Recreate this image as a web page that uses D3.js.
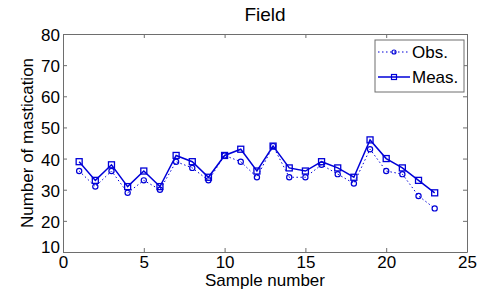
<!DOCTYPE html>
<html>
<head>
<meta charset="utf-8">
<script src="https://cdn.jsdelivr.net/npm/d3@7"></script>
<style>
body { margin: 0; background: #fff; }
text { font-family: "Liberation Sans", Arial, sans-serif; fill: #000; }
</style>
</head>
<body>
<svg id="chart" width="477" height="293"></svg>
<script>
// sample numbers 1..23
var samples = [1, 2, 3, 4, 5, 6, 7, 8, 9, 10, 11, 12, 13, 14, 15, 16, 17, 18, 19, 20, 21, 22, 23];
var obs = [36, 31, 36, 29, 33, 30, 39, 37, 33, 41, 39, 34, 44, 34, 34, 38, 35, 32, 43, 36, 35, 28, 24];
var meas = [39, 33, 38, 31, 36, 31, 41, 39, 34, 41, 43, 36, 44, 37, 36, 39, 37, 34, 46, 40, 37, 33, 29];
var xTicks = [0, 5, 10, 15, 20, 25];
var yTicks = [10, 20, 30, 40, 50, 60, 70, 80];

var blue = "#0000d8";
var axisCol = "#6e6e6e";

var plotL = 63, plotR = 467, plotT = 34, plotB = 252;

var svg = d3.select("#chart");

var x = d3.scaleLinear().domain([0, 25]).range([plotL, plotR]);
var y = d3.scaleLinear().domain([10, 80]).range([plotB, plotT]);

// axes (box with inward ticks on all sides)
function styleAxis(g) {
    g.select(".domain").attr("stroke", axisCol);
    g.selectAll(".tick line").attr("stroke", axisCol);
    g.selectAll(".tick text").style("font-size", "17px").attr("fill", "#000");
}

svg.append("g")
    .attr("transform", "translate(0," + plotB + ")")
    .call(d3.axisBottom(x).tickValues(xTicks).tickSizeInner(-4).tickSizeOuter(0).tickPadding(4))
    .call(styleAxis);

svg.append("g")
    .attr("transform", "translate(0," + plotT + ")")
    .call(d3.axisTop(x).tickValues(xTicks).tickSizeInner(-4).tickSizeOuter(0).tickFormat(""))
    .call(styleAxis);

var yAxisG = svg.append("g")
    .attr("transform", "translate(" + plotL + ",0)")
    .call(d3.axisLeft(y).tickValues(yTicks).tickSizeInner(-4).tickSizeOuter(0).tickPadding(3))
    .call(styleAxis);

// matlab lifts the bottom y label above the corner
yAxisG.selectAll(".tick text")
    .attr("dy", function (d) { return d == 10 ? "0.02em" : "0.38em"; });

svg.append("g")
    .attr("transform", "translate(" + plotR + ",0)")
    .call(d3.axisRight(y).tickValues(yTicks).tickSizeInner(-4).tickSizeOuter(0).tickFormat(""))
    .call(styleAxis);

// lines
var line = d3.line().x(function (d, i) { return x(samples[i]); }).y(function (d) { return y(d); });

svg.append("path")
    .datum(obs)
    .attr("d", line)
    .attr("fill", "none")
    .attr("stroke", blue)
    .attr("stroke-width", 1)
    .attr("stroke-dasharray", "1.5,2.5");

svg.append("path")
    .datum(meas)
    .attr("d", line)
    .attr("fill", "none")
    .attr("stroke", blue)
    .attr("stroke-width", 1.5);

svg.selectAll(".obsPt")
    .data(obs)
    .enter().append("circle")
    .attr("class", "obsPt")
    .attr("cx", function (d, i) { return x(samples[i]); })
    .attr("cy", function (d) { return y(d); })
    .attr("r", 2.6)
    .attr("fill", "none")
    .attr("stroke", blue)
    .attr("stroke-width", 1.2);

svg.selectAll(".measPt")
    .data(meas)
    .enter().append("rect")
    .attr("class", "measPt")
    .attr("x", function (d, i) { return x(samples[i]) - 3; })
    .attr("y", function (d) { return y(d) - 3; })
    .attr("width", 6)
    .attr("height", 6)
    .attr("fill", "none")
    .attr("stroke", blue)
    .attr("stroke-width", 1.3);

// title and labels
svg.append("text")
    .attr("x", (plotL + plotR) / 2)
    .attr("y", 21)
    .attr("text-anchor", "middle")
    .style("font-size", "19px")
    .text("Field");

svg.append("text")
    .attr("x", (plotL + plotR) / 2)
    .attr("y", 286)
    .attr("text-anchor", "middle")
    .style("font-size", "17px")
    .text("Sample number");

svg.append("text")
    .attr("transform", "translate(33," + (plotT + plotB) / 2 + ") rotate(-90)")
    .attr("text-anchor", "middle")
    .style("font-size", "17px")
    .text("Number of mastication");

// legend
var leg = svg.append("g");
leg.append("rect")
    .attr("x", 375).attr("y", 40)
    .attr("width", 89).attr("height", 52)
    .attr("fill", "#fff")
    .attr("stroke", axisCol);

var legItems = [
    { name: "Obs.", dash: "1.5,2.5", w: 1, marker: "circle" },
    { name: "Meas.", dash: null, w: 1.5, marker: "square" }
];

legItems.forEach(function (item, i) {
    var cy = 52 + i * 25;
    leg.append("line")
        .attr("x1", 378).attr("x2", 410)
        .attr("y1", cy).attr("y2", cy)
        .attr("stroke", blue)
        .attr("stroke-width", item.w)
        .attr("stroke-dasharray", item.dash);
    if (item.marker == "circle") {
        leg.append("circle")
            .attr("cx", 394).attr("cy", cy).attr("r", 2)
            .attr("fill", "none").attr("stroke", blue).attr("stroke-width", 1.2);
    } else {
        leg.append("rect")
            .attr("x", 391.5).attr("y", cy - 2.5).attr("width", 5).attr("height", 5)
            .attr("fill", "none").attr("stroke", blue).attr("stroke-width", 1.2);
    }
    leg.append("text")
        .attr("x", 412).attr("y", cy + 6)
        .style("font-size", "17px")
        .text(item.name);
});
</script>
</body>
</html>
